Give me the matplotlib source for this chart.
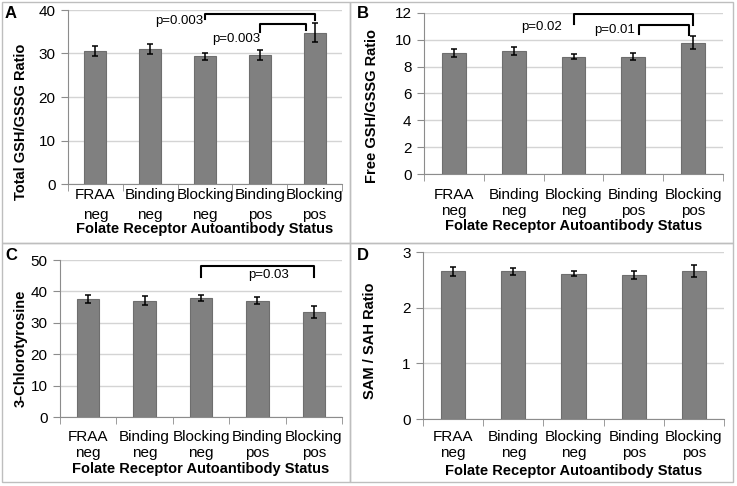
import matplotlib
matplotlib.use("Agg")
import matplotlib.pyplot as plt
from matplotlib.patches import Rectangle

plt.rcParams['font.family'] = ['Liberation Sans', 'DejaVu Sans']

categories = ["FRAA\nneg", "Binding\nneg", "Blocking\nneg", "Binding\npos", "Blocking\npos"]
xlabel = "Folate Receptor Autoantibody Status"

total_gsh = [30.6, 31.0, 29.4, 29.7, 34.8]
total_gsh_err = [1.2, 1.1, 0.8, 1.2, 2.2]
free_gsh = [9.0, 9.15, 8.75, 8.75, 9.8]
free_gsh_err = [0.3, 0.3, 0.2, 0.25, 0.45]
chloro = [37.6, 37.1, 37.9, 37.1, 33.3]
chloro_err = [1.3, 1.3, 0.9, 1.2, 1.9]
sam_sah = [2.65, 2.65, 2.61, 2.59, 2.66]
sam_sah_err = [0.08, 0.07, 0.05, 0.07, 0.11]

W, H = 737, 486
fig = plt.figure(figsize=(W / 100, H / 100), dpi=100)

# panel frames
for (x0, y0, x1, y1) in [(2, 2, 350, 243), (350, 2, 733, 243), (2, 243, 350, 482), (350, 243, 733, 482)]:
    fig.patches.append(Rectangle((x0 / W, 1 - y1 / H), (x1 - x0) / W, (y1 - y0) / H,
                                 transform=fig.transFigure, fill=False, edgecolor='#BEBEBE', lw=1))

def make_ax(px, letter, lpos, vals, errs, ylim, step, ylabel, ylab_xy, ls, pad, lpad):
    x0, y0, x1, y1 = px
    ax = fig.add_axes([x0 / W, 1 - y1 / H, (x1 - x0) / W, (y1 - y0) / H])
    idx = range(len(categories))
    ax.bar(idx, vals, width=0.4, color='#808080', edgecolor='#6E6E6E', linewidth=0.8, zorder=3)
    ax.errorbar(idx, vals, yerr=errs, fmt='none', ecolor='black', elinewidth=1.1, capsize=2, capthick=1.1, zorder=4)
    ax.set_xlim(-0.5, len(categories) - 0.5)
    ax.set_ylim(0, ylim)
    ax.set_yticks([i * step for i in range(int(round(ylim / step)) + 1)])
    ax.yaxis.grid(True, color='#D4D4D4', lw=1, zorder=0)
    ax.set_axisbelow(True)
    for s in ['top', 'right']:
        ax.spines[s].set_visible(False)
    for s in ['left', 'bottom']:
        ax.spines[s].set_color('#8C8C8C')
    ax.set_xticks(list(idx))
    ax.set_xticklabels(categories, fontsize=11, linespacing=ls)
    ax.set_xticks([i - 0.5 for i in range(len(categories) + 1)], minor=True)
    ax.tick_params(axis='x', which='major', length=0, pad=pad)
    ax.tick_params(axis='x', which='minor', length=5, color='#8C8C8C')
    ax.tick_params(axis='y', length=5, color='#8C8C8C', labelsize=11, pad=4)
    ax.set_xlabel(xlabel, fontsize=10.5, fontweight='bold', labelpad=lpad)
    ax.set_ylabel(ylabel, fontsize=10.5, fontweight='bold')
    ax.yaxis.set_label_coords(*ylab_xy)
    fig.text(lpos[0] / W, 1 - lpos[1] / H, letter, fontsize=12, fontweight='bold', ha='left', va='center')
    return ax

def bracket(ax, xl, xr, ytop, ybl, ybr):
    ax.plot([xl, xl, xr, xr], [ybl, ytop, ytop, ybr], color='black', lw=1.5, zorder=5, solid_joinstyle='round')

axA = make_ax((68, 10, 342, 184), 'A', (5, 14), total_gsh, total_gsh_err, 40, 10,
              "Total GSH/GSSG Ratio", (-0.146, 0.36), 1.55, 3, 0)
bracket(axA, 2, 4, 39.0, 37.9, 37.7)
bracket(axA, 3, 3.85, 36.8, 34.9, 35.4)
axA.text(1.97, 37.4, "p=0.003", fontsize=9.5, ha='right', va='center')
axA.text(2.57, 33.3, "p=0.003", fontsize=9.5, ha='center', va='center')

axB = make_ax((424, 13, 723, 174), 'B', (357, 14), free_gsh, free_gsh_err, 12, 2,
              "Free GSH/GSSG Ratio", (-0.15, 0.42), 1.2, 10, 1)
bracket(axB, 2, 4, 11.9, 11.15, 11.1)
bracket(axB, 3.1, 3.93, 11.07, 10.4, 10.35)
axB.text(1.46, 10.95, "p=0.02", fontsize=9.5, ha='center', va='center')
axB.text(2.69, 10.7, "p=0.01", fontsize=9.5, ha='center', va='center')

axC = make_ax((60, 260, 342, 417), 'C', (5, 255), chloro, chloro_err, 50, 10,
              "3-Chlorotyrosine", (-0.113, 0.44), 1.2, 9, 2)
bracket(axC, 2.0, 4.0, 48.2, 44.6, 44.6)
axC.text(3.19, 45.2, "p=0.03", fontsize=9.5, ha='center', va='center')

axD = make_ax((423, 252, 724, 419), 'D', (357, 255), sam_sah, sam_sah_err, 3, 1,
              "SAM / SAH Ratio", (-0.153, 0.47), 1.2, 8, 3)

fig.savefig("out.png", dpi=100)
